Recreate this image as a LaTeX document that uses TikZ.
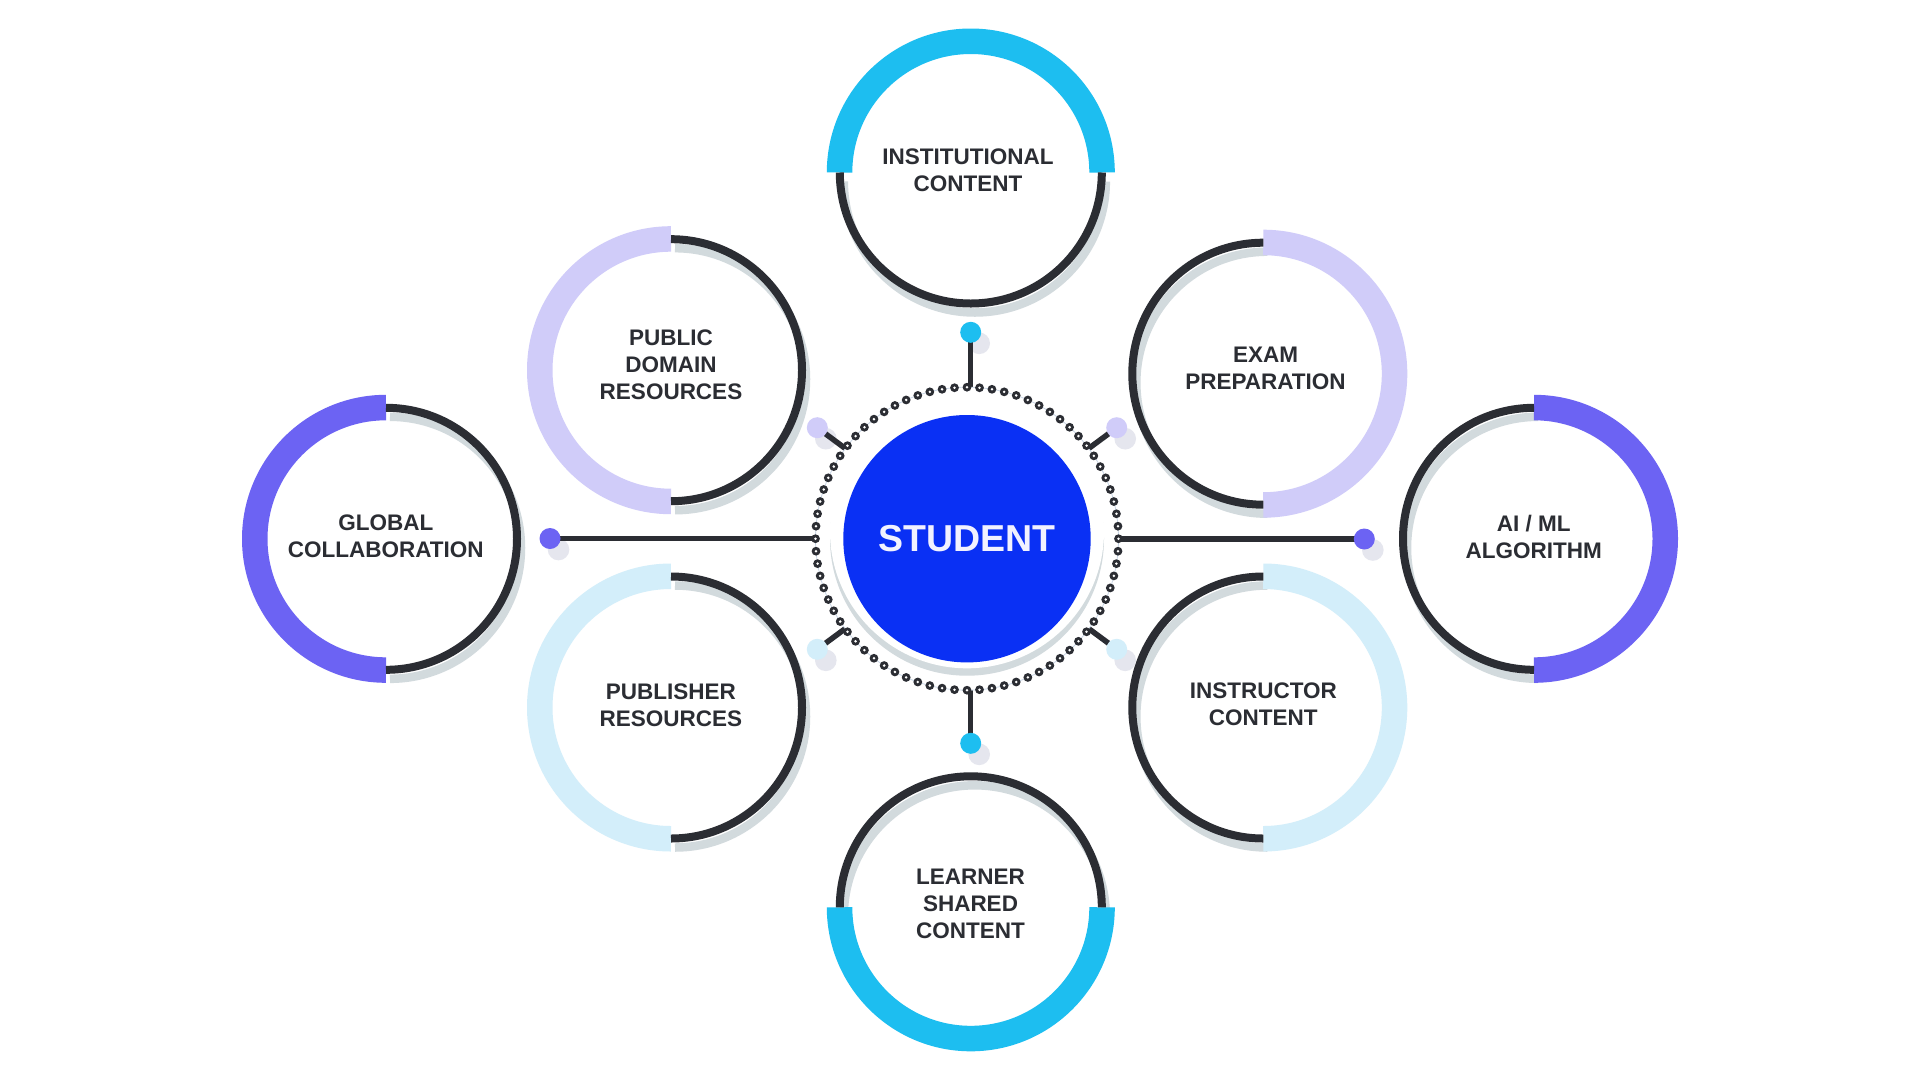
\documentclass[tikz,border=0pt]{standalone}
\usepackage{fontspec}
\setmainfont{Liberation Sans}
\usetikzlibrary{calc}
\definecolor{ink}{HTML}{2B2D33}
\definecolor{cyanc}{HTML}{1DBEF0}
\definecolor{purplec}{HTML}{6C63F3}
\definecolor{lavc}{HTML}{D0CCF9}
\definecolor{lbluec}{HTML}{D3EEFA}
\definecolor{shadec}{HTML}{D2DADD}
\definecolor{dotshade}{HTML}{E5E6EE}
\definecolor{bluec}{HTML}{0A30F4}
\definecolor{ringfaint}{HTML}{C9D6E6}
\tikzset{
  lbl/.style={font=\fontsize{22.5}{27}\selectfont\bfseries, text=ink, align=center, inner sep=0pt},
  ringline/.style={draw=ink, line width=8pt},
  shadowline/.style={draw=shadec, line width=8.5pt},
  conn/.style={draw=ink, line width=5.5pt},
  dotnode/.style={circle, minimum size=21pt, inner sep=0pt, draw=none},
  dotsh/.style={fill=dotshade},
}
\newcommand\hubcircle[4]{%
  \draw[shadowline] ([shift={(#4+180:131)}] #1+4,#2-9) arc[start angle=#4+180, end angle=#4+360, radius=131];
  \draw[draw=#3, line width=25.5pt] ([shift={(#4:131.25)}] #1,#2) arc[start angle=#4, end angle=#4+180, radius=131.25];
  \draw[ringline] ([shift={(#4+180:131)}] #1,#2) arc[start angle=#4+180, end angle=#4+360, radius=131];
}
\begin{document}
\begin{tikzpicture}[x=1pt,y=1pt]
\useasboundingbox (0,0) rectangle (1920,-1080);
\fill[white] (0,0) rectangle (1920,-1080);

% outer circles
\hubcircle{970.8}{-172.5}{cyanc}{0}
\hubcircle{970.8}{-907.3}{cyanc}{180}
\hubcircle{671}{-370.2}{lavc}{90}
\hubcircle{386}{-538.8}{purplec}{90}
\hubcircle{671}{-707.5}{lbluec}{90}
\hubcircle{1263.3}{-373.7}{lavc}{-90}
\hubcircle{1534}{-538.8}{purplec}{-90}
\hubcircle{1263.3}{-707.5}{lbluec}{-90}

\node[lbl] (inst) at (968,-169.8) {INSTITUTIONAL\\CONTENT};
\node[lbl] (learn) at (970.5,-904.3) {LEARNER\\SHARED\\CONTENT};
\node[lbl] (pub) at (671,-364.5) {PUBLIC\\DOMAIN\\RESOURCES};
\node[lbl] (glob) at (385.8,-536.3) {GLOBAL\\COLLABORATION};
\node[lbl] (publ) at (670.8,-704.8) {PUBLISHER\\RESOURCES};
\node[lbl] (exam) at (1265.5,-368) {EXAM\\PREPARATION};
\node[lbl] (aiml) at (1533.8,-537.3) {AI / ML\\ALGORITHM};
\node[lbl] (instr) at (1263.3,-704.4) {INSTRUCTOR\\CONTENT};

% student hub
\coordinate (sc) at (967,-538.7);
\fill[shadec] (sc) circle (137pt);
\fill[white] (967,-531.3) circle (137pt);
\node[circle, fill=bluec, minimum size=247.4pt, inner sep=0pt, text=white!95!blue,
      font=\fontsize{37.5}{40}\selectfont\bfseries] (student) at (sc) {STUDENT};

% dot positions
\coordinate (pT) at (970.7,-332.3);
\coordinate (pB) at (970.7,-743.3);
\coordinate (pL) at (550,-538.5);
\coordinate (pR) at (1364.3,-539);
\coordinate (pTL) at (817.3,-427.7);
\coordinate (pTR) at (1116.7,-427.7);
\coordinate (pBL) at (817.3,-649.3);
\coordinate (pBR) at (1116.7,-649.3);
% ring end points
\coordinate (rT) at (970.7,-387.2);
\coordinate (rB) at (970.7,-690.2);
\coordinate (rL) at (815.5,-538.5);
\coordinate (rR) at (1118.5,-539);
\coordinate (rTL) at ($(sc)!151.5pt!(pTL)$);
\coordinate (rTR) at ($(sc)!151.5pt!(pTR)$);
\coordinate (rBL) at ($(sc)!151.5pt!(pBL)$);
\coordinate (rBR) at ($(sc)!151.5pt!(pBR)$);

% dot shadows
\foreach \p in {pT,pB,pL,pR,pTL,pTR,pBL,pBR}{
  \fill[dotsh] ([shift={(8.5,-11)}]\p) circle (10.8pt);
}
% connectors
\draw[conn] (pT) -- (rT);
\draw[conn] (pB) -- (rB);
\draw[conn] (pL) -- (rL);
\draw[conn] (pR) -- (rR);
\draw[conn] (pTL) -- (rTL);
\draw[conn] (pTR) -- (rTR);
\draw[conn] (pBL) -- (rBL);
\draw[conn] (pBR) -- (rBR);

% dotted ring
\draw[ringfaint, line width=0.8pt] (sc) circle (151.5pt);
\foreach \k in {0,...,75}{
  \pgfmathsetmacro\ang{\k/76*360}
  \fill[ink] ([shift={(\ang:151.5)}] sc) circle (4.4pt);
  \fill[white] ([shift={(\ang:151.5)}] sc) circle (1.4pt);
}

% dots
\node[dotnode, fill=cyanc] (dT) at (pT) {};
\node[dotnode, fill=cyanc] (dB) at (pB) {};
\node[dotnode, fill=purplec] (dL) at (pL) {};
\node[dotnode, fill=purplec] (dR) at (pR) {};
\node[dotnode, fill=lavc] (dTL) at (pTL) {};
\node[dotnode, fill=lavc] (dTR) at (pTR) {};
\node[dotnode, fill=lbluec] (dBL) at (pBL) {};
\node[dotnode, fill=lbluec] (dBR) at (pBR) {};
\end{tikzpicture}
\end{document}
